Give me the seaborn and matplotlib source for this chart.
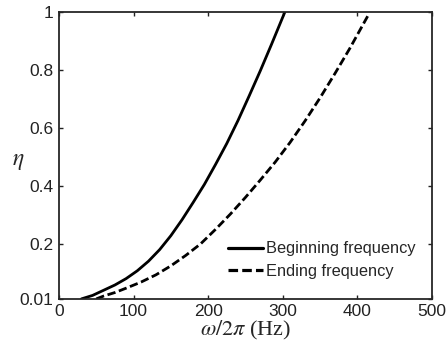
import matplotlib
matplotlib.use("Agg")
import matplotlib.pyplot as plt
import seaborn as sns
import pandas as pd

begin_f = [30, 45, 60, 75, 90, 105, 120, 135, 150, 165, 180, 195, 210, 225, 240, 255, 270, 285, 303]
begin_eta = [0.01, 0.022, 0.04, 0.058, 0.08, 0.107, 0.14, 0.18, 0.228, 0.283, 0.343, 0.405,
             0.474, 0.546, 0.625, 0.71, 0.797, 0.888, 1.0]
end_f = [50, 60, 75, 90, 110, 130, 150, 170, 190, 210, 230, 250, 270, 290, 310, 330, 350, 370, 390, 415]
end_eta = [0.01, 0.02, 0.032, 0.047, 0.068, 0.093, 0.124, 0.16, 0.2, 0.25, 0.303, 0.36, 0.42,
           0.482, 0.55, 0.624, 0.703, 0.787, 0.874, 0.99]
labels = ["Beginning frequency", "Ending frequency"]
xticks = [0, 100, 200, 300, 400, 500]
yticks = [0.01, 0.2, 0.4, 0.6, 0.8, 1]
yticklabels = ['0.01', '0.2', '0.4', '0.6', '0.8', '1']

sns.set_style("ticks")
plt.rcParams['font.family'] = ['Liberation Sans', 'DejaVu Sans']
plt.rcParams['mathtext.fontset'] = 'stix'

fig = plt.figure(figsize=(4.47, 3.5), dpi=100)
ax = fig.add_axes([0.132, 0.146, 0.834, 0.82])

df1 = pd.DataFrame({'f': begin_f, 'eta': begin_eta})
df2 = pd.DataFrame({'f': end_f, 'eta': end_eta})
sns.lineplot(data=df1, x='f', y='eta', ax=ax, color='black', lw=2.0, sort=False, label=labels[0])
sns.lineplot(data=df2, x='f', y='eta', ax=ax, color='black', lw=2.0, sort=False, label=labels[1],
             linestyle=(0, (3, 1.3)))

ax.set_xlim(0, 500)
ax.set_ylim(0.01, 1)
ax.set_xticks(xticks)
ax.set_yticks(yticks)
ax.set_yticklabels(yticklabels)
ax.tick_params(direction='in', length=3, width=1, top=True, right=True, labelsize=12.5, pad=4,
               colors='#222222')
for s in ax.spines.values():
    s.set_linewidth(1.3)

ax.set_xlabel(r'$\omega/2\pi$ (Hz)', fontsize=16, family='Liberation Serif', labelpad=0)
ax.set_ylabel(r'$\eta$', fontsize=17, rotation=0, va='center', ha='center')
ax.yaxis.set_label_coords(-0.11, 0.48)

leg = ax.legend(loc='upper left', bbox_to_anchor=(0.454, 0.2), frameon=False, fontsize=11.8,
                handlelength=2.1, handletextpad=0.2, labelspacing=0.47, borderpad=0,
                borderaxespad=0)
for h in leg.get_lines():
    h.set_linewidth(2.3)

fig.savefig('out.png', dpi=100)
